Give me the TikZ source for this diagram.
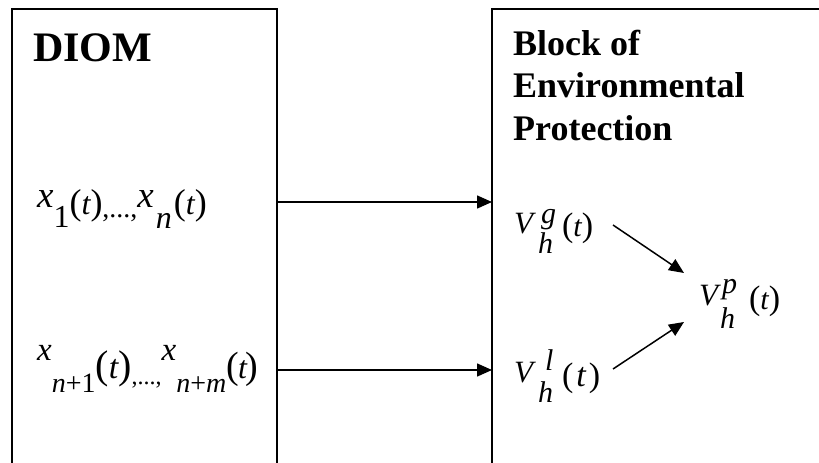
\documentclass[tikz,border=0pt]{standalone}
\usepackage{fontspec}
\setmainfont{Liberation Serif}
\usetikzlibrary{arrows.meta}
% font size shortcut and vertical shifts for the hand-set formulas
\newcommand\fs[1]{\fontsize{#1}{#1}\selectfont}
\newcommand\dn[2]{\raisebox{-#1pt}{#2}}
\newcommand\up[2]{\raisebox{#1pt}{#2}}
% "(t)" with parenthesis size #1 and letter size #2
\newcommand\argt[2]{{\fs{#1}\upshape(}{\fs{#2}\itshape t}{\fs{#1}\upshape)}}
\begin{document}
\begin{tikzpicture}[x=1pt,y=-1pt,
  blk/.style={draw, line width=1.6pt, inner sep=0pt, outer sep=0pt, anchor=north west},
  lbl/.style={inner sep=0pt, anchor=base west},
  arr/.style={line width=1.5pt, -{Triangle[length=15pt,width=13pt]}},
]
\clip (0,0) rectangle (819,463);

% the two blocks (open towards the lower and right edges)
\node[blk, minimum width=265pt, minimum height=520pt] (diom) at (12,9) {};
\node[blk, minimum width=400pt, minimum height=520pt] (bep) at (492,9) {};

% titles
\node[lbl] (t0) at (33,61) {\fs{42}\bfseries DIOM};
\node[lbl] (t1) at (513,55) {\fs{36}\bfseries Block of};
\node[lbl] (t2) at (513,97) {\fs{36}\bfseries Environmental};
\node[lbl] (t3) at (513,140) {\fs{36}\bfseries Protection};

% outputs of DIOM
\node[lbl] (xa) at (37,207) {{\fs{37}\itshape x}\dn{20}{\fs{32}1}\dn{7}{\argt{36}{32}}\dn{10}{\fs{28},...,}{\fs{37}\itshape x}\kern2pt\dn{21}{\fs{32}\itshape n}\kern2pt\dn{7}{\argt{36}{32}}};
\node[lbl] (xb) at (37,360) {{\fs{33}\itshape x}\dn{32}{\fs{28}\itshape n\upshape+1}\dn{18}{\argt{40}{34}}\dn{24}{\fs{24},...,}{\fs{33}\itshape x}\dn{32}{\fs{28}\itshape n\upshape+\itshape m}\dn{18}{\fs{38}\upshape(\kern-1pt{\fs{32}\itshape t}\kern-1pt)}};

% quantities inside the protection block
\node[lbl] (vg) at (514,233) {\fs{31}\itshape V\rlap{\kern8pt\up{10}{\fs{30}g}}\rlap{\kern5pt\dn{20}{\fs{30}h}}\kern29pt\dn{3}{\argt{34}{30}}};
\node[lbl] (vl) at (514,382) {\fs{31}\itshape V\rlap{\kern12pt\up{12}{\fs{30}l}}\rlap{\kern5pt\dn{20}{\fs{30}h}}\kern29pt\dn{4}{\fs{34}\upshape(\kern3pt{\itshape t}\kern3pt)}};
\node[lbl] (vp) at (699,305) {\fs{31}\itshape V\rlap{\kern4pt\up{12}{\fs{30}p}}\rlap{\kern2pt\dn{23}{\fs{30}h}}\kern31pt\dn{4}{\argt{34}{30}}};

% connectors
\coordinate (r1) at (0,202);
\coordinate (r2) at (0,370);
\draw[arr] (diom.east |- r1) -- (bep.west |- r1);
\draw[arr] (diom.east |- r2) -- (bep.west |- r2);

\coordinate (g0) at (613,225);
\coordinate (g1) at (684,273);
\coordinate (l0) at (613,369);
\coordinate (l1) at (684,322);
\draw[arr] (g0) -- (g1);
\draw[arr] (l0) -- (l1);
\end{tikzpicture}
\end{document}
